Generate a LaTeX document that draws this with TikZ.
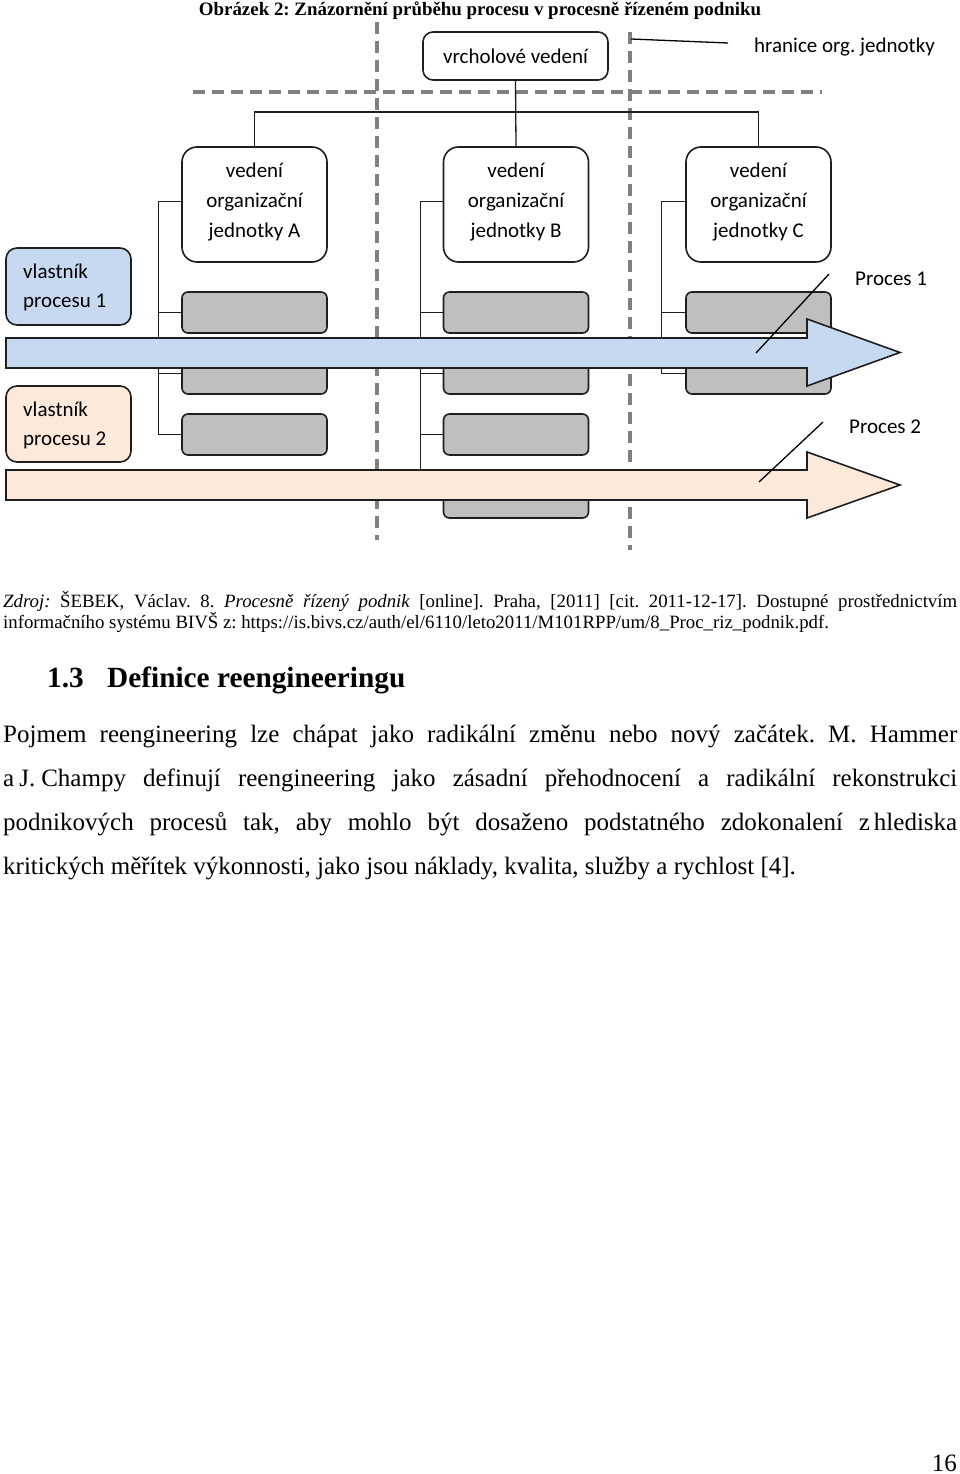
\documentclass[tikz,border=0pt]{standalone}
\usepackage{fontspec}
\setmainfont{Liberation Serif}
\newfontfamily\diagfont{Carlito}
\usetikzlibrary{calc}
\definecolor{procblue}{HTML}{C6D9F1}
\definecolor{procpeach}{HTML}{FDE9D9}
\definecolor{boxgray}{HTML}{BFBFBF}
\definecolor{dashgray}{HTML}{808080}
\definecolor{edgecol}{HTML}{1E1E1E}
\begin{document}
\frenchspacing
\begin{tikzpicture}[x=1pt,y=-1pt,
  unitbox/.style={draw=edgecol, line width=1.6pt, rounded corners=15pt, fill=white, minimum width=145pt, minimum height=115pt, inner sep=0pt},
  topbox/.style={draw=edgecol, line width=1.6pt, rounded corners=10pt, fill=white, minimum width=185pt, minimum height=48pt, inner sep=0pt, font=\diagfont\fontsize{21}{25}\selectfont, text height=15pt, text depth=0pt},
  graybox/.style={draw=edgecol, line width=1.6pt, rounded corners=6pt, fill=boxgray, minimum width=145pt, minimum height=41pt, inner sep=0pt},
  ownerbox/.style={draw=edgecol, line width=1.6pt, rounded corners=11pt, minimum width=125pt, minimum height=77pt, inner sep=0pt},
  bound/.style={draw=dashgray, line width=4pt, dash pattern=on 12pt off 7pt},
  link/.style={draw=edgecol, line width=1.3pt},
  arrowshape/.style={draw=edgecol, line width=1.6pt, line join=miter},
  leader/.style={draw=black, line width=1.3pt},
  dline/.style={font=\diagfont\fontsize{21}{25}\selectfont, inner sep=0pt, anchor=base},
  oline/.style={font=\diagfont\fontsize{21}{25}\selectfont, inner sep=0pt, anchor=base west},
  body/.style={font=\fontsize{25}{30}\selectfont, inner sep=0pt, anchor=base west},
  capt/.style={font=\fontsize{18.8}{21}\selectfont, inner sep=0pt, anchor=base west}
]
\useasboundingbox[fill=white] (0,0) rectangle (960,1474);

% title
\node[inner sep=0pt, anchor=base, font=\bfseries\fontsize{18.9}{21}\selectfont] (title) at (480,16) {Obrázek 2: Znázornění průběhu procesu v procesně řízeném podniku};

% organisational boundaries
\draw[bound] (377,22) -- (377,540);
\draw[bound] (630,32) -- (630,550);
\draw[bound] (193,92) -- (822,92);

% top management
\node[topbox] (top) at (515.5,56) {vrcholové vedení};
\coordinate (hubA) at (254.5,112);
\coordinate (hubC) at (758.5,112);

% unit management boxes
\node[unitbox] (A) at (254.5,204.5) {};
\node[unitbox] (B) at (516,204.5) {};
\node[unitbox] (C) at (758.5,204.5) {};

\draw[link] (top.south) -- (B.north);
\draw[link] (A.north) -- (hubA) -- (hubC) -- (C.north);

\node[dline] (A1t) at (254.5,178) {vedení};
\node[dline] (A2t) at (254.5,207.5) {organizační};
\node[dline] (A3t) at (254.5,237) {jednotky A};
\node[dline] (B1t) at (516,178) {vedení};
\node[dline] (B2t) at (516,207.5) {organizační};
\node[dline] (B3t) at (516,237) {jednotky B};
\node[dline] (C1t) at (758.5,178) {vedení};
\node[dline] (C2t) at (758.5,207.5) {organizační};
\node[dline] (C3t) at (758.5,237) {jednotky C};

% gray activity boxes
\node[graybox] (A1) at (254.5,312.5) {};
\node[graybox] (A2) at (254.5,373.5) {};
\node[graybox] (A3) at (254.5,434.5) {};
\node[graybox] (B1) at (516,312.5) {};
\node[graybox] (B2) at (516,373.5) {};
\node[graybox] (B3) at (516,434.5) {};
\node[graybox, minimum height=40pt] (B4) at (516,498) {};
\node[graybox] (C1) at (758.5,312.5) {};
\node[graybox] (C2) at (758.5,373.5) {};

% branch lines
\draw[link] ([yshift=3pt]A.west) -- ++(-23,0) |- (A3.west);
\draw[link] (A1.west) -- ++(-23,0);
\draw[link] (A2.west) -- ++(-23,0);
\draw[link] ([yshift=3pt]B.west) -- ++(-22.5,0) |- (B4.west);
\draw[link] (B1.west) -- ++(-22.5,0);
\draw[link] (B2.west) -- ++(-22.5,0);
\draw[link] (B3.west) -- ++(-22.5,0);
\draw[link] ([yshift=3pt]C.west) -- ++(-24,0) |- (C2.west);
\draw[link] (C1.west) -- ++(-24,0);

% process owners
\node[ownerbox, fill=procblue] (own1) at (68.5,286.5) {};
\node[oline] (own1a) at (23,278) {vlastník};
\node[oline] (own1b) at (23,307) {procesu 1};
\node[ownerbox, fill=procpeach, minimum height=76pt] (own2) at (68.5,424) {};
\node[oline] (own2a) at (23,416) {vlastník};
\node[oline] (own2b) at (23,445) {procesu 2};

% process arrows
\draw[arrowshape, fill=procblue] (6,338) -- (807,338) -- (807,319) -- (900,352.5) -- (807,386) -- (807,368) -- (6,368) -- cycle;
\draw[arrowshape, fill=procpeach] (6,470) -- (807,470) -- (807,452) -- (900,485) -- (807,518) -- (807,500) -- (6,500) -- cycle;

% labels and leaders
\node[oline] (p1) at (855,285) {Proces 1};
\node[oline] (p2) at (849,433) {Proces 2};
\node[oline] (hr) at (754,53) {hranice org. jednotky};
\coordinate (p1a) at (829,274);
\coordinate (p1b) at (756,353);
\coordinate (p2a) at (823,422);
\coordinate (p2b) at (759,482);
\coordinate (hra) at (631,39);
\coordinate (hrb) at (728,43);
\draw[leader] (p1a) -- (p1b);
\draw[leader] (p2a) -- (p2b);
\draw[leader] (hra) -- (hrb);

% source
\node[capt] (src1) at (3,607) {\makebox[954pt][s]{\itshape Zdroj:\upshape{} ŠEBEK, Václav. 8. \itshape Procesně řízený podnik\upshape{} [online]. Praha, [2011] [cit. 2011-12-17]. Dostupné prostřednictvím}};
\node[capt] (src2) at (3,628) {informačního systému BIVŠ z: https://is.bivs.cz/auth/el/6110/leto2011/M101RPP/um/8\_Proc\_riz\_podnik.pdf.};

% heading
\node[inner sep=0pt, anchor=base west, font=\bfseries\fontsize{29.3}{32}\selectfont] (hnum) at (47,687) {1.3};
\node[inner sep=0pt, anchor=base west, font=\bfseries\fontsize{29.3}{32}\selectfont] (htxt) at (107,687) {Definice reengineeringu};

% body
\node[body] (l1) at (3,742) {\makebox[954pt][s]{Pojmem reengineering lze chápat jako radikální změnu nebo nový začátek. M. Hammer}};
\node[body] (l2) at (3,786) {\makebox[954pt][s]{a\kern5pt J.\kern6pt Champy definují reengineering jako zásadní přehodnocení a radikální rekonstrukci}};
\node[body] (l3) at (3,830) {\makebox[954pt][s]{podnikových procesů tak, aby mohlo být dosaženo podstatného zdokonalení z\kern4pt hlediska}};
\node[body] (l4) at (3,874) {kritických měřítek výkonnosti, jako jsou náklady, kvalita, služby a rychlost [4].};

% page number
\node[inner sep=0pt, anchor=base east, font=\fontsize{25}{30}\selectfont] (pg) at (957,1471) {16};
\end{tikzpicture}
\end{document}
